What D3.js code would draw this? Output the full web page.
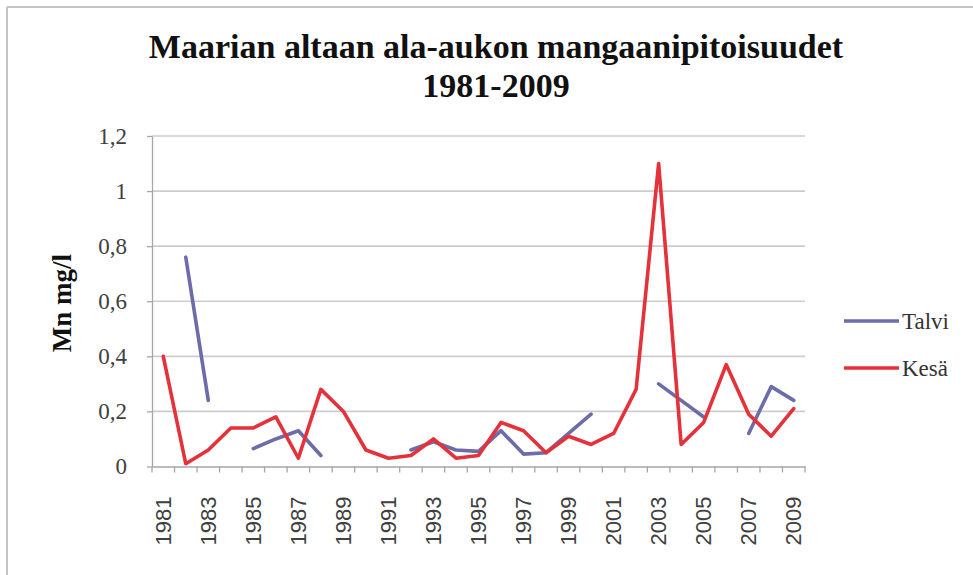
<!DOCTYPE html>
<html>
<head>
<meta charset="utf-8">
<script src="https://d3js.org/d3.v7.min.js"></script>
<style>
    body { margin: 0; background: #fff; }
    svg { display: block; }
    .grid line { stroke: #cdcdcd; stroke-width: 1.6; }
    .axis path, .axis line { stroke: #a6a6a6; stroke-width: 1.3; }
</style>
</head>
<body>
<svg id="chart" width="973" height="575"></svg>
<script>
    var years = d3.range(1981, 2010);
    // Talvi = winter, Kesä = summer; null = no measurement
    var talvi = [null, 0.76, 0.24, null, 0.065, 0.10, 0.13, 0.04, null, null,
                 null, 0.06, 0.09, 0.06, 0.055, 0.13, 0.045, 0.05, 0.12, 0.19,
                 null, null, 0.30, 0.24, 0.18, null, 0.12, 0.29, 0.24];
    var kesa = [0.40, 0.01, 0.06, 0.14, 0.14, 0.18, 0.03, 0.28, 0.20, 0.06,
                0.03, 0.04, 0.10, 0.03, 0.04, 0.16, 0.13, 0.05, 0.11, 0.08,
                0.12, 0.28, 1.10, 0.08, 0.16, 0.37, 0.19, 0.11, 0.21];
    var yTicks = [0, 0.2, 0.4, 0.6, 0.8, 1, 1.2];
    var seriesNames = ["Talvi", "Kesä"];
    var seriesColors = ["#6b6ca8", "#e4313a"];

    var svg = d3.select("#chart");

    // outer frame of the chart object
    svg.append("line").attr("x1", 7).attr("x2", 7).attr("y1", 7).attr("y2", 575)
        .attr("stroke", "#c4c4c4").attr("stroke-width", 2);
    svg.append("line").attr("x1", 7).attr("x2", 973).attr("y1", 7).attr("y2", 7)
        .attr("stroke", "#c4c4c4").attr("stroke-width", 2);

    var x = d3.scaleBand().domain(years).range([152, 805]);
    var y = d3.scaleLinear().domain([0, 1.2]).range([466.5, 136]);

    // gridlines
    svg.append("g").attr("class", "grid").selectAll("line")
        .data(yTicks.slice(1)).join("line")
        .attr("x1", 152).attr("x2", 805)
        .attr("y1", d => y(d)).attr("y2", d => y(d));

    // y axis
    var yAxis = svg.append("g").attr("class", "axis")
        .attr("transform", "translate(152,0)")
        .call(d3.axisLeft(y).tickValues(yTicks).tickSize(5).tickSizeOuter(0)
            .tickFormat(d => String(+d.toFixed(1)).replace(".", ",")));
    yAxis.selectAll("text")
        .attr("x", -25)
        .style("font-family", "'Liberation Serif', serif")
        .style("font-size", "23px")
        .style("fill", "#404040");

    // x axis: labels every other year, ticks at category boundaries
    var xAxis = svg.append("g").attr("class", "axis")
        .attr("transform", "translate(0," + y(0) + ")")
        .call(d3.axisBottom(x).tickValues(years.filter((d, i) => i % 2 == 0))
            .tickSize(0).tickSizeOuter(0));
    xAxis.selectAll("text")
        .attr("transform", "rotate(-90)")
        .attr("text-anchor", "end")
        .attr("x", -30)
        .attr("y", 0)
        .attr("dy", "0.35em")
        .style("font-family", "'Liberation Sans', Arial, sans-serif")
        .style("font-size", "22px")
        .style("fill", "#404040");
    xAxis.selectAll(".bound").data(years.map(d => x(d)).concat([x.range()[1]]))
        .join("line").attr("class", "bound")
        .attr("x1", d => d).attr("x2", d => d)
        .attr("y1", 0).attr("y2", 6);

    // lines
    var line = d3.line()
        .defined(d => d[1] != null)
        .x(d => x(d[0]) + x.bandwidth() / 2)
        .y(d => y(d[1]));

    [talvi, kesa].forEach(function(vals, i) {
        svg.append("path")
            .datum(years.map((yr, j) => [yr, vals[j]]))
            .attr("fill", "none")
            .attr("stroke", seriesColors[i])
            .attr("stroke-width", 3.6)
            .attr("stroke-linejoin", "round")
            .attr("stroke-linecap", "round")
            .attr("d", line);
    });

    // title
    var title = svg.append("text")
        .attr("x", 496)
        .attr("text-anchor", "middle")
        .style("font-family", "'Liberation Serif', serif")
        .style("font-weight", "bold")
        .style("font-size", "34px")
        .style("fill", "#111");
    title.append("tspan").attr("x", 496).attr("y", 58).text("Maarian altaan ala-aukon mangaanipitoisuudet");
    title.append("tspan").attr("x", 496).attr("y", 97).text("1981-2009");

    // y axis title
    svg.append("text")
        .attr("transform", "translate(71,303) rotate(-90)")
        .attr("text-anchor", "middle")
        .style("font-family", "'Liberation Serif', serif")
        .style("font-weight", "bold")
        .style("font-size", "27px")
        .style("fill", "#111")
        .text("Mn mg/l");

    // legend
    var legend = svg.append("g").selectAll("g").data(seriesNames).join("g")
        .attr("transform", (d, i) => "translate(844," + (321 + i * 47) + ")");
    legend.append("line")
        .attr("x1", 0).attr("x2", 55)
        .attr("stroke", (d, i) => seriesColors[i])
        .attr("stroke-width", 3.6);
    legend.append("text")
        .attr("x", 58).attr("y", 0).attr("dy", "0.35em")
        .style("font-family", "'Liberation Serif', serif")
        .style("font-size", "23px")
        .style("fill", "#333")
        .text(d => d);
</script>
</body>
</html>
